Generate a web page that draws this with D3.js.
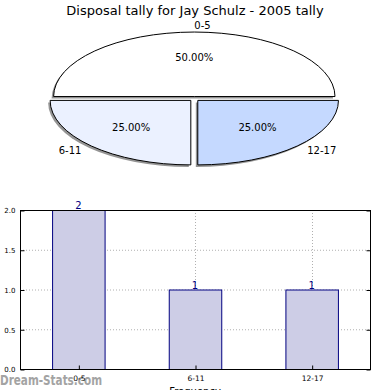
<!DOCTYPE html>
<html>
<head>
<meta charset="utf-8">
<script src="https://cdn.jsdelivr.net/npm/d3@7"></script>
<style>
  html, body { margin: 0; padding: 0; background: #fff; }
  svg { display: block; font-family: "DejaVu Sans", sans-serif; }
</style>
</head>
<body>
<div id="chart"></div>
<script>
// 데이터
const categories = ['0-5', '6-11', '12-17'];
const counts = [2, 1, 1];
const sliceColors = ['#ffffff', '#ebf1ff', '#c5d9ff'];
const yTicks = [0, 0.5, 1.0, 1.5, 2.0];
const title = 'Disposal tally for Jay Schulz - 2005 tally';

const W = 390, H = 390;
const svg = d3.select('#chart').append('svg')
  .attr('width', W).attr('height', H);

// ---- 파이 ----
svg.append('text')
  .attr('x', 195).attr('y', 14.5)
  .attr('text-anchor', 'middle').attr('font-size', 13)
  .text(title);

const cx = 194.3, cy = 98.8, rx = 140.7, ry = 64.5;
const explode = 0.035;
const total = d3.sum(counts);

// matplotlib 방식: 3시 방향에서 시작, 반시계
const pie = d3.pie().sort(null).startAngle(Math.PI / 2).endAngle(Math.PI / 2 - 2 * Math.PI);
const arcs = pie(counts);
const arc = d3.arc().innerRadius(0).outerRadius(1);

const off = d => {
  const a = (d.startAngle + d.endAngle) / 2;
  return [Math.sin(a), -Math.cos(a)];
};

const gShadow = svg.append('g').attr('transform', `translate(${cx - 2},${cy + 2}) scale(${rx},${ry})`);
gShadow.selectAll('path').data(arcs).join('path')
  .attr('d', arc)
  .attr('transform', d => { const [ux, uy] = off(d); return `translate(${ux * explode},${uy * explode})`; })
  .attr('fill', '#000').attr('fill-opacity', 0.42);

const gPie = svg.append('g').attr('transform', `translate(${cx},${cy}) scale(${rx},${ry})`);
gPie.selectAll('path').data(arcs).join('path')
  .attr('d', arc)
  .attr('transform', d => { const [ux, uy] = off(d); return `translate(${ux * explode},${uy * explode})`; })
  .attr('fill', (d, i) => sliceColors[i])
  .attr('stroke', '#000').attr('stroke-width', 1)
  .attr('vector-effect', 'non-scaling-stroke');

// 라벨
arcs.forEach((d, i) => {
  const [ux, uy] = off(d);
  const ex = cx + ux * explode * rx, ey = cy + uy * explode * ry;
  const lx = ex + ux * 1.1 * rx, ly = ey + uy * 1.1 * ry;
  svg.append('text')
    .attr('x', lx).attr('y', ly).attr('dy', '0.35em')
    .attr('text-anchor', ux > -1e-9 ? 'start' : 'end')
    .attr('font-size', 10)
    .text(categories[i]);
  svg.append('text')
    .attr('x', ex + ux * 0.6 * rx).attr('y', ey + uy * 0.6 * ry).attr('dy', '0.35em')
    .attr('text-anchor', 'middle').attr('font-size', 10)
    .text((counts[i] / total * 100).toFixed(2) + '%');
});

// ---- 막대 ----
const L = 20, R = 370, T = 210, B = 369;
const x = d3.scaleLinear().domain([0, categories.length]).range([L, R]);
const y = d3.scaleLinear().domain([0, 2]).range([B, T]);
const barW = 0.45;

const grid = svg.append('g').attr('stroke', '#b0b0b0').attr('stroke-dasharray', '1,2');
grid.selectAll('line.h').data(yTicks.slice(1, -1)).join('line')
  .attr('x1', L).attr('x2', R).attr('y1', d => y(d) + 0.5).attr('y2', d => y(d) + 0.5);

svg.selectAll('rect.bar').data(counts).join('rect')
  .attr('class', 'bar')
  .attr('x', (d, i) => x(i + 0.5 - barW / 2) + 0.5)
  .attr('y', d => y(d) + 0.5)
  .attr('width', x(barW) - x(0))
  .attr('height', d => y(0) - y(d))
  .attr('fill', '#cdcde6').attr('stroke', '#000080').attr('stroke-width', 1);

grid.selectAll('line.v').data(categories).join('line')
  .attr('x1', (d, i) => Math.round(x(i + 0.5)) + 0.5).attr('x2', (d, i) => Math.round(x(i + 0.5)) + 0.5)
  .attr('y1', T).attr('y2', B);

svg.selectAll('text.val').data(counts).join('text')
  .attr('x', (d, i) => x(i + 0.5)).attr('y', d => y(d) - 1)
  .attr('text-anchor', 'middle').attr('font-size', 10).attr('fill', '#000080')
  .text(d => d);

// 축 (눈금 안쪽)
const yAxisL = d3.axisLeft(y).tickValues(yTicks).tickFormat(d3.format('.1f')).tickSize(-4).tickPadding(5);
const yAxisR = d3.axisRight(y).tickValues(yTicks).tickFormat('').tickSize(-4);
const xAxisB = d3.axisBottom(x).tickValues(categories.map((c, i) => i + 0.5))
  .tickFormat((d, i) => categories[i]).tickSize(-4).tickPadding(6);

const gy = svg.append('g').attr('transform', `translate(${L + 0.5},0.5)`).call(yAxisL);
const gyr = svg.append('g').attr('transform', `translate(${R + 0.5},0.5)`).call(yAxisR);
const gx = svg.append('g').attr('transform', `translate(0.5,${B + 0.5})`).call(xAxisB);
[gy, gyr, gx].forEach(g => {
  g.select('.domain').remove();
  g.selectAll('.tick line').attr('stroke', '#000');
  g.selectAll('text').attr('font-size', 7).attr('font-family', '"DejaVu Sans", sans-serif').attr('fill', '#000');
});
gx.selectAll('text').attr('font-size', 7.5);

svg.append('rect')
  .attr('x', L + 0.5).attr('y', T + 0.5).attr('width', R - L).attr('height', B - T)
  .attr('fill', 'none').attr('stroke', '#000').attr('stroke-width', 1);

svg.append('text')
  .attr('x', 195).attr('y', 395)
  .attr('text-anchor', 'middle').attr('font-size', 10)
  .text('Frequency');

// 워터마크 (눈금 라벨 아래에 깔림)
svg.insert('text', ':first-child')
  .attr('x', 0).attr('y', 385)
  .attr('font-size', 14).attr('font-weight', 'bold').attr('fill', '#a3a3a3')
  .attr('textLength', 102).attr('lengthAdjust', 'spacingAndGlyphs')
  .text('Dream-Stats.com');
</script>
</body>
</html>
